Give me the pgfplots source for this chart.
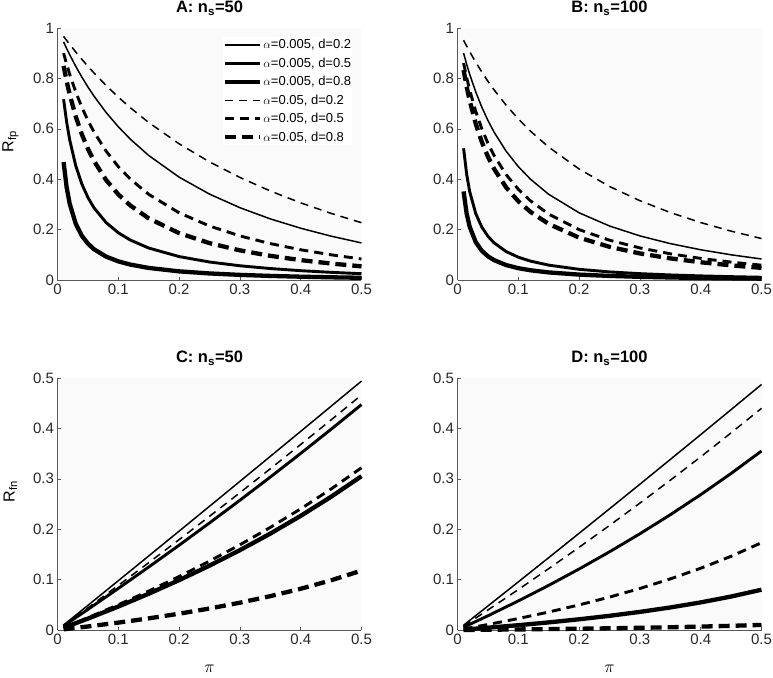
\documentclass[border=0pt]{standalone}
\usepackage{fontspec}
\setmainfont{Liberation Sans}
\usepackage{pgfplots}
\pgfplotsset{compat=1.18}
\usepackage{pgfplotstable}

% columns: pi, a=0.005 d=0.2, a=0.005 d=0.5, a=0.005 d=0.8, a=0.05 d=0.2, a=0.05 d=0.5, a=0.05 d=0.8
\pgfplotstableread{
x s1 s2 s3 s4 s5 s6
0.01 0.9447 0.7174 0.4679 0.9668 0.9 0.8498
0.015 0.9188 0.6274 0.3684 0.9508 0.8565 0.7896
0.02 0.8942 0.5568 0.3032 0.9351 0.8167 0.7368
0.03 0.8479 0.4533 0.2231 0.9049 0.7462 0.6488
0.04 0.8054 0.3810 0.1757 0.8759 0.6857 0.5783
0.05 0.7661 0.3276 0.1444 0.8482 0.6333 0.5205
0.06 0.7298 0.2866 0.1221 0.8217 0.5875 0.4724
0.08 0.6647 0.2277 0.0927 0.7718 0.5111 0.3966
0.1 0.6081 0.1875 0.0740 0.7258 0.45 0.3396
0.12 0.5584 0.1583 0.0611 0.6832 0.4 0.2953
0.15 0.4942 0.1269 0.0479 0.625 0.34 0.2446
0.2 0.4082 0.0930 0.0343 0.5405 0.2667 0.1860
0.25 0.3409 0.0714 0.0260 0.4688 0.2143 0.1463
0.3 0.2869 0.0565 0.0203 0.4070 0.1750 0.1176
0.35 0.2425 0.0455 0.0162 0.3533 0.1444 0.0959
0.4 0.2055 0.0370 0.0131 0.3061 0.12 0.0789
0.45 0.1740 0.0304 0.0107 0.2644 0.1 0.0653
0.5 0.1471 0.025 0.0088 0.2273 0.0833 0.0541
}\tabA

\pgfplotstableread{
x s1 s2 s3 s4 s5 s6
0.01 0.9 0.5227 0.3514 0.9512 0.8609 0.8333
0.015 0.8565 0.4208 0.2644 0.9282 0.8041 0.7684
0.02 0.8167 0.3515 0.2115 0.9061 0.7538 0.7122
0.03 0.7462 0.2634 0.1504 0.8642 0.6690 0.6202
0.04 0.6857 0.2098 0.1161 0.8253 0.6 0.5479
0.05 0.6333 0.1737 0.0942 0.7890 0.5429 0.4897
0.06 0.5875 0.1477 0.0790 0.7551 0.4947 0.4417
0.08 0.5111 0.1129 0.0592 0.6936 0.4182 0.3674
0.1 0.45 0.0905 0.0469 0.6392 0.36 0.3125
0.12 0.4 0.0750 0.0386 0.5908 0.3143 0.2703
0.15 0.34 0.0590 0.0301 0.5273 0.2615 0.2225
0.2 0.2667 0.0424 0.0214 0.4405 0.2 0.1681
0.25 0.2143 0.0321 0.0162 0.3713 0.1579 0.1316
0.3 0.1750 0.0252 0.0126 0.3147 0.1273 0.1054
0.35 0.1444 0.0201 0.0101 0.2677 0.1040 0.0858
0.4 0.12 0.0163 0.0081 0.2280 0.0857 0.0704
0.45 0.1 0.0133 0.0066 0.1939 0.0710 0.0581
0.5 0.0833 0.0109 0.0054 0.1645 0.0588 0.0481
}\tabB

\pgfplotstableread{
x s1 s2 s3 s4 s5 s6
0.01 0.00976 0.00811 0.00442 0.00875 0.00477 0.00135
0.05 0.04885 0.04084 0.02259 0.04396 0.02438 0.00699
0.1 0.09783 0.08248 0.04653 0.08849 0.05011 0.01464
0.15 0.14692 0.12494 0.07193 0.13358 0.07730 0.02305
0.2 0.19612 0.16824 0.09894 0.17926 0.10609 0.03234
0.25 0.24545 0.21240 0.12770 0.22554 0.13663 0.04266
0.3 0.29490 0.25747 0.15841 0.27243 0.16906 0.05419
0.35 0.34447 0.30345 0.19126 0.31993 0.20359 0.06715
0.4 0.39416 0.35038 0.22648 0.36807 0.24041 0.08183
0.45 0.44397 0.39831 0.26435 0.41685 0.27976 0.09859
0.5 0.49390 0.44723 0.30517 0.46629 0.32192 0.11792
}\tabC

\pgfplotstableread{
x s1 s2 s3 s4 s5 s6
0.01 0.00950 0.00553 0.00088 0.00787 0.00211 0.00010
0.05 0.04761 0.02817 0.00455 0.03969 0.01090 0.00054
0.1 0.09546 0.05767 0.00957 0.08025 0.02275 0.00113
0.15 0.14355 0.08858 0.01511 0.12171 0.03565 0.00180
0.2 0.19188 0.12102 0.02127 0.16410 0.04976 0.00254
0.25 0.24046 0.15511 0.02816 0.20745 0.06527 0.00339
0.3 0.28929 0.19096 0.03592 0.25179 0.08238 0.00435
0.35 0.33837 0.22873 0.04472 0.29717 0.10136 0.00546
0.4 0.38770 0.26856 0.05478 0.34361 0.12253 0.00676
0.45 0.43728 0.31064 0.06640 0.39116 0.14631 0.00828
0.5 0.48712 0.35515 0.07998 0.43985 0.17319 0.01010
}\tabD

\tikzset{
  sA/.style={black, line width=1.5pt, line join=round},
  sB/.style={black, line width=2.9pt, line join=round},
  sC/.style={black, line width=4.3pt, line join=round},
  sD/.style={black, line width=1.5pt, dash pattern=on 8pt off 6pt},
  sE/.style={black, line width=2.9pt, dash pattern=on 9pt off 6pt},
  sF/.style={black, line width=4.3pt, dash pattern=on 11pt off 6pt},
}

\pgfplotsset{
  myaxis/.style={
    scale only axis, width=304pt, height=252pt,
    xmin=0, xmax=0.5,
    clip=false,
    axis x line*=bottom, axis y line*=left,
    axis line style={black!65, line width=0.6pt, -},
    tick align=inside, major tick length=3pt,
    tick style={black!65, line width=0.5pt},
    xtick={0,0.1,0.2,0.3,0.4,0.5},
    /pgf/number format/assume math mode=true,
    ticklabel style={font=\fontsize{15}{17}\selectfont, text=black!85},
    axis background/.style={fill=black!2},
    title style={font=\bfseries\fontsize{16.5}{18}\selectfont, yshift=3pt},
    label style={font=\fontsize{16}{18}\selectfont},
  },
}

\begin{document}
\begin{tikzpicture}
\useasboundingbox (0,0) rectangle (773pt,-677pt);

% A
\begin{axis}[myaxis, at={(57.5pt,-28pt)}, anchor=north west,
  ymin=0, ymax=1, ytick={0,0.2,0.4,0.6,0.8,1},
  title={A: n\textsubscript{s}=50},
  ylabel={R\textsubscript{fp}},
  ylabel style={at={(axis description cs:-0.155,0.55)}, anchor=center},
  legend style={at={(0.97,0.965)}, anchor=north east, draw=none, fill=white,
    font=\fontsize{13}{15}\selectfont, inner sep=0pt, row sep=3pt,
    nodes={inner sep=1pt, text height=10.5pt, text depth=3pt}},
  legend cell align=left,
  legend image code/.code={\draw[#1] (0pt,0pt) -- (35pt,0pt);},
]
\addplot[sA] table[x=x, y=s1] {\tabA};
\addplot[sB] table[x=x, y=s2] {\tabA};
\addplot[sC] table[x=x, y=s3] {\tabA};
\addplot[sD] table[x=x, y=s4] {\tabA};
\addplot[sE] table[x=x, y=s5] {\tabA};
\addplot[sF] table[x=x, y=s6] {\tabA};
\legend{$\alpha$=0.005{,} d=0.2, $\alpha$=0.005{,} d=0.5, $\alpha$=0.005{,} d=0.8, $\alpha$=0.05{,} d=0.2, $\alpha$=0.05{,} d=0.5, $\alpha$=0.05{,} d=0.8}
\end{axis}

% B
\begin{axis}[myaxis, at={(457.5pt,-28pt)}, anchor=north west,
  ymin=0, ymax=1, ytick={0,0.2,0.4,0.6,0.8,1},
  title={B: n\textsubscript{s}=100},
]
\addplot[sA] table[x=x, y=s1] {\tabB};
\addplot[sB] table[x=x, y=s2] {\tabB};
\addplot[sC] table[x=x, y=s3] {\tabB};
\addplot[sD] table[x=x, y=s4] {\tabB};
\addplot[sE] table[x=x, y=s5] {\tabB};
\addplot[sF] table[x=x, y=s6] {\tabB};
\end{axis}

% C
\begin{axis}[myaxis, at={(57.5pt,-378pt)}, anchor=north west,
  ymin=0, ymax=0.5, ytick={0,0.1,0.2,0.3,0.4,0.5},
  title={C: n\textsubscript{s}=50},
  ylabel={R\textsubscript{fn}},
  ylabel style={at={(axis description cs:-0.155,0.55)}, anchor=center},
  xlabel={$\pi$},
  xlabel style={at={(axis description cs:0.5,-0.152)}, anchor=center},
]
\addplot[sA] table[x=x, y=s1] {\tabC};
\addplot[sB] table[x=x, y=s2] {\tabC};
\addplot[sC] table[x=x, y=s3] {\tabC};
\addplot[sD] table[x=x, y=s4] {\tabC};
\addplot[sE] table[x=x, y=s5] {\tabC};
\addplot[sF] table[x=x, y=s6] {\tabC};
\end{axis}

% D
\begin{axis}[myaxis, at={(457.5pt,-378pt)}, anchor=north west,
  ymin=0, ymax=0.5, ytick={0,0.1,0.2,0.3,0.4,0.5},
  title={D: n\textsubscript{s}=100},
  xlabel={$\pi$},
  xlabel style={at={(axis description cs:0.5,-0.152)}, anchor=center},
]
\addplot[sA] table[x=x, y=s1] {\tabD};
\addplot[sB] table[x=x, y=s2] {\tabD};
\addplot[sC] table[x=x, y=s3] {\tabD};
\addplot[sD] table[x=x, y=s4] {\tabD};
\addplot[sE] table[x=x, y=s5] {\tabD};
\addplot[sF] table[x=x, y=s6] {\tabD};
\end{axis}
\end{tikzpicture}
\end{document}
